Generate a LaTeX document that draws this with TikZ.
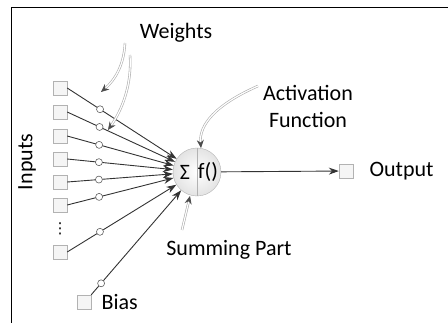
\documentclass[tikz,border=0pt]{standalone}
\usepackage{fontspec}
\setmainfont{Carlito}
\newfontfamily\symfont{DejaVu Sans}
\usetikzlibrary{arrows.meta,shadows}
\begin{document}
\begin{tikzpicture}[x=1pt,y=-1pt,
    font=\fontsize{22}{27}\selectfont,
    sq/.style={draw=gray!60, fill=gray!8, minimum size=14pt, inner sep=0pt,
      drop shadow={shadow xshift=1pt,shadow yshift=-1pt,fill=gray!40,opacity=0.6}},
    wgt/.style={circle, draw=gray!75!black, fill=white, minimum size=7pt, inner sep=0pt, line width=0.6pt},
    link/.style={draw=black!80, line width=0.9pt, -{Stealth[length=10pt,width=7pt]}},
    note/.style={draw=gray!65, double=white, double distance=1.2pt, line width=0.6pt,
      -{Stealth[length=8pt,width=7pt,fill=gray!60!black,color=gray!60!black]}},
  ]
  \useasboundingbox (0,0) rectangle (448,323);

  % Frame
  \draw[line width=1pt] (11,330) -- (11,8) -- (455,8);

  % Neuron
  \node[circle, minimum size=48pt, inner sep=0pt, draw=gray!60,
        inner color=white, outer color=gray!22] (neuron) at (197,172) {};
  \draw[gray!60] (neuron.north) -- (neuron.south);
  \node (sum) at (185,172) {Σ};
  \node (act) at (208,172) {f()};

  % Inputs with weights
  \foreach \y [count=\i] in {88,112,136,159,182,205,252} {
    \node[sq] (in\i) at (60,\y) {};
    \draw[link] (in\i.east) -- (neuron) node[wgt,pos=0.3] (w\i) {};
  }
  \node[font=\fontsize{15}{16}\symfont] (dots) at (60,229) {⋮};
  \node[rotate=90] (inlbl) at (27,162) {Inputs};

  % Bias
  \node[sq] (bias) at (84,302) {};
  \draw[link] (bias.north east) -- (neuron) node[wgt,pos=0.11] (wb) {};
  \node[anchor=west] (biaslbl) at (98,302) {Bias};

  % Output
  \node[sq] (out) at (346,171) {};
  \draw[link] (neuron) -- (out);
  \node[anchor=west] (outlbl) at (366,171) {Output};

  % Labels
  \node (wlbl) at (176,33) {Weights};
  \node[align=center] (flbl) at (308,106) {Activation\\Function};
  \node (slbl) at (229,250) {Summing Part};

  % Pointers
  \coordinate (wa1) at (125,43);
  \coordinate (wa2) at (130,55);
  \coordinate (fa) at (258,86);
  \coordinate (sa) at (182,230);
  \draw[note] (wa1) .. controls (124,65) and (115,80) .. (101,92);
  \draw[note] (wa2) .. controls (132,85) and (122,110) .. (108,130);
  \draw[note] (fa) .. controls (215,105) and (199,125) .. (201,148);
  \draw[note] (sa) -- (190,196);

\end{tikzpicture}
\end{document}
